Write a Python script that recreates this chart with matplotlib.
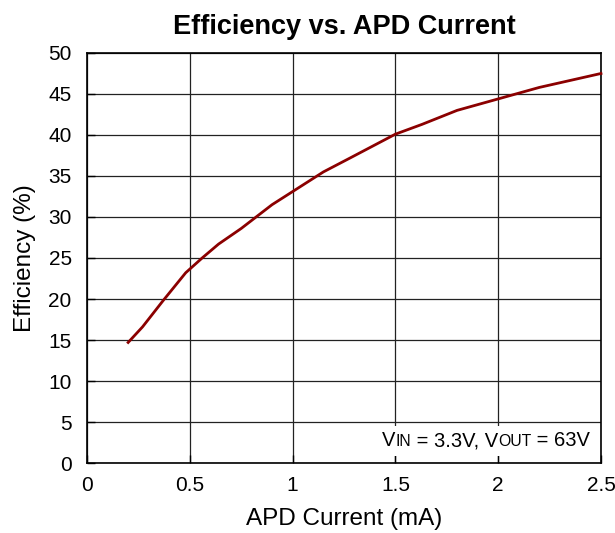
import matplotlib
matplotlib.use('Agg')
import matplotlib.pyplot as plt
from matplotlib.patches import Rectangle

plt.rcParams['font.family'] = ['Liberation Sans', 'DejaVu Sans']

# efficiency curve
apd_current = [0.2, 0.27, 0.37, 0.48, 0.56, 0.64, 0.75, 0.9, 1.0, 1.15,
               1.28, 1.5, 1.63, 1.8, 2.0, 2.2, 2.5]
efficiency = [14.7, 16.6, 19.8, 23.2, 25.0, 26.7, 28.6, 31.5, 33.1, 35.5,
              37.2, 40.1, 41.3, 43.0, 44.4, 45.8, 47.5]

xticks = [0, 0.5, 1, 1.5, 2, 2.5]
xticklabels = ['0', '0.5', '1', '1.5', '2', '2.5']
yticks = list(range(0, 55, 5))

# annotation pieces: (text, small?)
note_parts = [('V', False), ('IN', True), (' = 3.3V, V', False),
              ('OUT', True), (' = 63V', False)]

fig, ax = plt.subplots(figsize=(6.15, 5.33), dpi=100)
plt.subplots_adjust(left=0.1415, right=0.9772, top=0.9006, bottom=0.1313)

ax.plot(apd_current, efficiency, color='#8b0000', linewidth=2, zorder=3,
        clip_on=False)

ax.set_xlim(0, 2.5)
ax.set_ylim(0, 50)
ax.set_xticks(xticks)
ax.set_xticklabels(xticklabels)
ax.set_yticks(yticks)
ax.set_axisbelow(True)
ax.grid(True, color='#222222', linewidth=0.9)
ax.tick_params(axis='both', direction='in', length=6, width=1,
               labelsize=15, color='black')
ax.tick_params(axis='x', pad=9)
ax.tick_params(axis='y', pad=11)
for sp in ax.spines.values():
    sp.set_color('black')
    sp.set_linewidth(1.2)

ax.set_title('Efficiency vs. APD Current', fontsize=19.5, fontweight='bold',
             pad=14)
ax.set_xlabel('APD Current (mA)', fontsize=17.5, labelpad=10)
ax.set_ylabel('Efficiency (%)', fontsize=17.5, labelpad=9)

# white box behind the condition note
ax.add_patch(Rectangle((0.565, 0.017), 0.423, 0.073, transform=ax.transAxes,
                       facecolor='white', edgecolor='none', zorder=1))

# build the note right to left so the small "IN"/"OUT" sit on the baseline
fig.canvas.draw()
renderer = fig.canvas.get_renderer()
x = 0.9786
y = 0.0415
for s, small in reversed(note_parts):
    t = ax.text(x, y, s, transform=ax.transAxes, ha='right', va='baseline',
                fontsize=11.3 if small else 14.5, zorder=4)
    bb = t.get_window_extent(renderer)
    x = ax.transAxes.inverted().transform((bb.x0, bb.y0))[0]

plt.savefig('out.png', dpi=100)
